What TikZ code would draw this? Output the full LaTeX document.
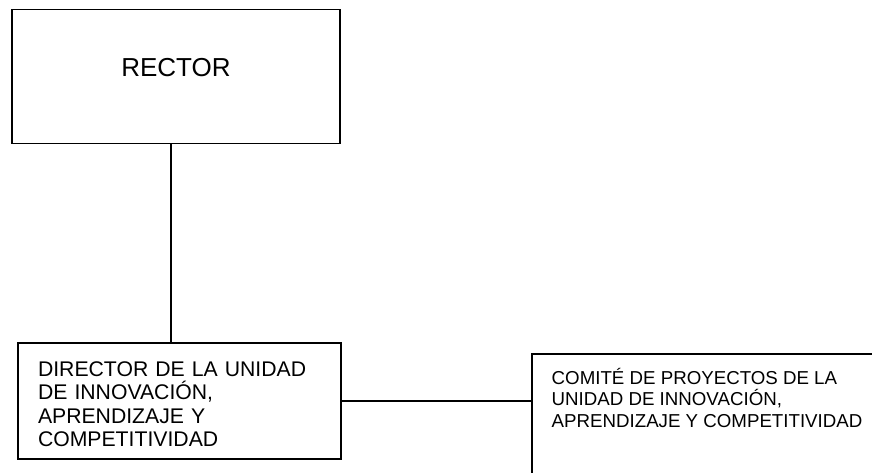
\documentclass[tikz,border=0pt]{standalone}
\usepackage{fontspec}
\setmainfont{Liberation Sans}
\begin{document}
\begin{tikzpicture}[x=1pt,y=-1pt,
  box/.style={draw=black,line width=1.7pt,rectangle,fill=white},
  conn/.style={draw=black,line width=1.7pt}]
\useasboundingbox[fill=white] (0,0) rectangle (872,472);
\clip (0,0) rectangle (872,472);
\node[box,minimum width=328pt,minimum height=134pt,inner sep=0pt,
  font=\fontsize{26}{30}\selectfont,text height=17pt,text depth=17pt]
  (rector) at (176,76.5) {RECTOR};
\node[box,minimum width=323pt,minimum height=116pt,inner xsep=20pt,inner ysep=0pt,
  text width=283pt,align=left,font=\fontsize{21.2}{23.3}\selectfont]
  (director) at (179.5,401) {\rule{0pt}{21.3pt}DIRECTOR DE LA UNIDAD\\DE INNOVACIÓN,\\APRENDIZAJE Y\\COMPETITIVIDAD};
\node[box,anchor=north west,minimum width=420pt,minimum height=200pt,inner sep=0pt]
  (comite) at (531,353) {};
\node[anchor=north west,inner sep=0pt,align=left,font=\fontsize{18.7}{21.2}\selectfont]
  (comitetext) at (551.5,364.5) {\rule{0pt}{20pt}COMITÉ DE PROYECTOS DE LA\\UNIDAD DE INNOVACIÓN,\\APRENDIZAJE Y COMPETITIVIDAD};
\coordinate (rdrop) at ([xshift=160pt]rector.south west);
\draw[conn] (rdrop) -- (rdrop |- director.north);
\draw[conn] (director.east) -- (director.east -| comite.west);
\end{tikzpicture}
\end{document}
